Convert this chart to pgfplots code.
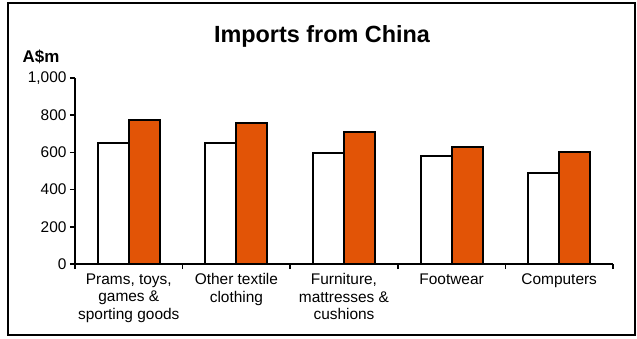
\documentclass[border=0pt]{standalone}
\usepackage{pgfplots}
\pgfplotsset{compat=1.18}
\usepackage{fontspec}
\setmainfont{Liberation Sans}
\definecolor{barorange}{RGB}{226,84,6}
\begin{document}
\begin{tikzpicture}[x=1bp,y=1bp]
\useasboundingbox (-75,-74) rectangle (562,264);
\draw[line width=2bp] (-67,-71) rectangle (560,261);
\node[font=\fontsize{23.5}{27}\selectfont\bfseries] at (247,228) {Imports from China};
\node[font=\fontsize{17}{19}\selectfont\bfseries] at (-34,207) {A\$m};
\begin{axis}[
  at={(0,0)}, anchor=south west,
  scale only axis, width=538bp, height=186bp,
  xmin=-0.5, xmax=4.5, ymin=0, ymax=1000,
  ybar=0pt, bar width=31bp,
  axis x line*=bottom, axis y line*=left,
  axis line style={line width=2bp},
  every tick/.style={black, line width=1.6bp},
  tick align=outside,
  major tick length=5bp, minor tick length=5bp,
  xtick={0,1,2,3,4},
  minor xtick={-0.5,0.5,1.5,2.5,3.5,4.5},
  major x tick style={draw=none},
  xticklabels={{Prams, toys,\\games \&\\sporting goods},{Other textile\\clothing},{Furniture,\\mattresses \&\\cushions},{Footwear},{Computers}},
  xticklabel style={align=center, font=\fontsize{15.5}{17.5}\selectfont, anchor=north, yshift=-1bp},
  ytick={0,200,400,600,800,1000},
  yticklabel style={font=\fontsize{15.5}{17}\selectfont},
  /pgf/number format/1000 sep={,},
  /pgf/number format/assume math mode=true,
  clip=false,
]
\addplot[draw=black, line width=2bp, fill=white] coordinates {(0,650) (1,650) (2,598) (3,581) (4,488)};
\addplot[draw=black, line width=2bp, fill=barorange] coordinates {(0,774) (1,760) (2,711) (3,627) (4,604)};
\end{axis}
\end{tikzpicture}
\end{document}
